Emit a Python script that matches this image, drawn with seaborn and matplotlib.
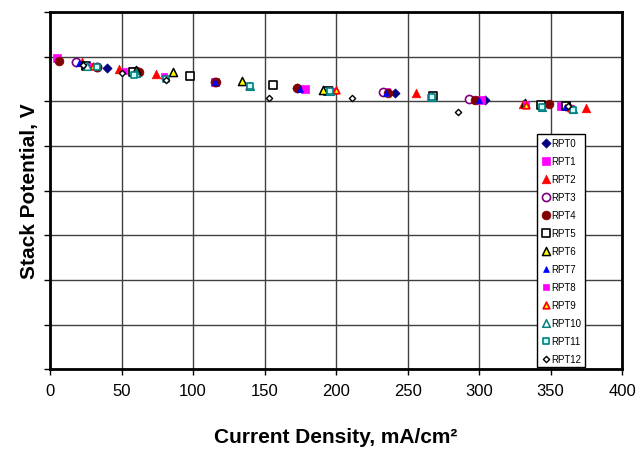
import matplotlib
matplotlib.use("Agg")
import matplotlib.pyplot as plt
import seaborn as sns
import pandas as pd

# ---- data (current density mA/cm2, stack potential V) ----
series_names = ["RPT0", "RPT1", "RPT2", "RPT3", "RPT4", "RPT5", "RPT6",
                "RPT7", "RPT8", "RPT9", "RPT10", "RPT11", "RPT12"]

rpt0_x = [18, 40, 173, 241, 304]
rpt0_y = [6.88, 6.75, 6.30, 6.19, 6.03]
rpt1_x = [5, 58, 115, 178, 235, 301, 357]
rpt1_y = [6.97, 6.68, 6.44, 6.28, 6.20, 6.03, 5.90]
rpt2_x = [22, 48, 74, 197, 256, 331, 375]
rpt2_y = [6.88, 6.73, 6.62, 6.26, 6.19, 5.95, 5.86]
rpt3_x = [18, 33, 60, 115, 233, 293]
rpt3_y = [6.88, 6.78, 6.68, 6.44, 6.21, 6.05]
rpt4_x = [6, 33, 62, 116, 173, 236, 297, 349]
rpt4_y = [6.91, 6.77, 6.66, 6.43, 6.30, 6.19, 6.04, 5.94]
rpt5_x = [25, 58, 98, 156, 194, 268, 343, 361]
rpt5_y = [6.80, 6.66, 6.57, 6.37, 6.24, 6.12, 5.93, 5.89]
rpt6_x = [60, 86, 134, 191, 332, 363]
rpt6_y = [6.70, 6.66, 6.46, 6.26, 5.97, 5.90]
rpt7_x = [20, 60, 115, 175, 235, 300, 360]
rpt7_y = [6.86, 6.66, 6.43, 6.28, 6.19, 6.03, 5.88]
rpt8_x = [28, 52, 80, 139, 197, 266, 333, 364]
rpt8_y = [6.80, 6.68, 6.57, 6.35, 6.24, 6.10, 5.94, 5.86]
rpt9_x = [30, 139, 200, 333, 364]
rpt9_y = [6.80, 6.35, 6.25, 5.93, 5.85]
rpt10_x = [26, 60, 140, 196, 267, 344, 366]
rpt10_y = [6.79, 6.64, 6.35, 6.23, 6.10, 5.88, 5.82]
rpt11_x = [33, 59, 81, 140, 196, 267, 344, 366]
rpt11_y = [6.76, 6.60, 6.50, 6.35, 6.23, 6.10, 5.87, 5.81]
rpt12_x = [23, 50, 81, 153, 211, 285, 362]
rpt12_y = [6.82, 6.64, 6.47, 6.07, 6.07, 5.77, 5.90]

x_ticks = [0, 50, 100, 150, 200, 250, 300, 350, 400]

all_x = [rpt0_x, rpt1_x, rpt2_x, rpt3_x, rpt4_x, rpt5_x, rpt6_x,
         rpt7_x, rpt8_x, rpt9_x, rpt10_x, rpt11_x, rpt12_x]
all_y = [rpt0_y, rpt1_y, rpt2_y, rpt3_y, rpt4_y, rpt5_y, rpt6_y,
         rpt7_y, rpt8_y, rpt9_y, rpt10_y, rpt11_y, rpt12_y]

# ---- styles ----
styles = {
    "RPT0": dict(marker="D", facecolor="#000080", edgecolor="#000080", s=22, lw=0.5),
    "RPT1": dict(marker="s", facecolor="#FF00FF", edgecolor="#FF00FF", s=38, lw=0.5),
    "RPT2": dict(marker="^", facecolor="#FF0000", edgecolor="#FF0000", s=38, lw=0.5),
    "RPT3": dict(marker="o", facecolor="white", edgecolor="#800080", s=34, lw=1.2),
    "RPT4": dict(marker="o", facecolor="#800000", edgecolor="#800000", s=40, lw=0.5),
    "RPT5": dict(marker="s", facecolor="white", edgecolor="black", s=30, lw=1.2),
    "RPT6": dict(marker="^", facecolor="#FFFF00", edgecolor="black", s=34, lw=1.1),
    "RPT7": dict(marker="^", facecolor="#0000FF", edgecolor="#0000FF", s=18, lw=0.5),
    "RPT8": dict(marker="s", facecolor="#FF00FF", edgecolor="#FF00FF", s=22, lw=0.5),
    "RPT9": dict(marker="^", facecolor="#FFFF00", edgecolor="#FF0000", s=22, lw=1.3),
    "RPT10": dict(marker="^", facecolor="white", edgecolor="#008080", s=30, lw=1.1),
    "RPT11": dict(marker="s", facecolor="#CCFFFF", edgecolor="#008080", s=20, lw=1.2),
    "RPT12": dict(marker="D", facecolor="white", edgecolor="black", s=10, lw=1.0),
}

sns.set_theme(style="white")
plt.rcParams["font.family"] = ["Liberation Sans", "DejaVu Sans"]
plt.rcParams["text.color"] = "black"
plt.rcParams["axes.labelcolor"] = "black"
plt.rcParams["xtick.color"] = "black"
plt.rcParams["ytick.color"] = "black"

fig = plt.figure(figsize=(6.42, 4.52), dpi=100)
ax = fig.add_axes([0.078, 0.181, 0.891, 0.790])

for name, xs, ys in zip(series_names, all_x, all_y):
    st = styles[name]
    df = pd.DataFrame({"x": xs, "y": ys})
    sns.scatterplot(data=df, x="x", y="y", ax=ax, marker=st["marker"],
                    color=st["facecolor"], edgecolor=st["edgecolor"],
                    s=st["s"], linewidth=st["lw"], label=name, zorder=3)

ax.set_xlim(0, 400)
ax.set_ylim(0, 8)
ax.set_xticks(x_ticks)
ax.set_xticklabels([str(t) for t in x_ticks], fontsize=12)
ax.set_yticks(range(0, 9))
ax.set_yticklabels([])
ax.grid(True, color="#404040", linewidth=1.0, zorder=0)
ax.set_axisbelow(True)
for sp in ax.spines.values():
    sp.set_color("black")
    sp.set_linewidth(2)
ax.tick_params(axis="both", direction="out", length=4, width=1, color="black",
               bottom=True, left=True, pad=6)

ax.set_xlabel("Current Density, mA/cm\u00b2", fontsize=15, fontweight="bold",
              labelpad=21, color="black")
ax.set_ylabel("Stack Potential, V", fontsize=15, fontweight="bold",
              labelpad=-2, color="black")

leg = ax.legend(loc="lower left", bbox_to_anchor=(0.851, 0.005), fontsize=7,
                frameon=True, fancybox=False, framealpha=1, edgecolor="black",
                borderpad=0.4, labelspacing=0.82, handletextpad=0.1,
                handlelength=1.0, borderaxespad=0)
leg.get_frame().set_linewidth(1.0)
leg.set_zorder(5)
for t in leg.get_texts():
    t.set_color("black")

fig.savefig("out.png", dpi=100)
